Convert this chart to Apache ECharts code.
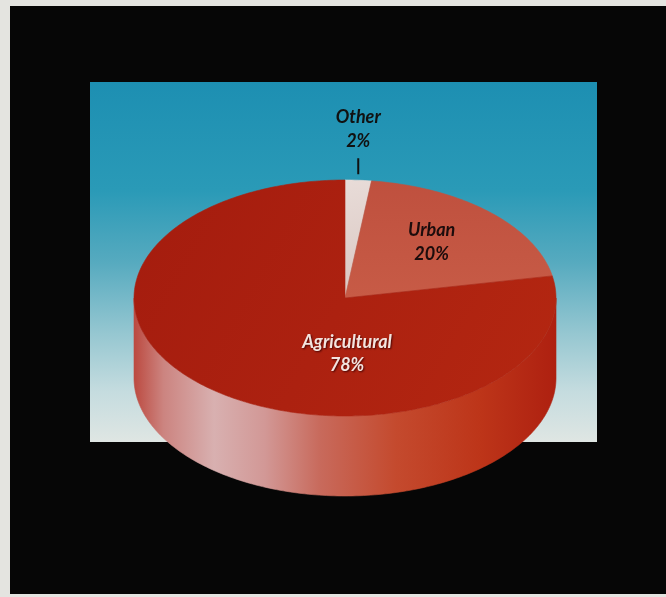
<!DOCTYPE html>
<html>
<head>
<meta charset="utf-8">
<script src="https://cdn.jsdelivr.net/npm/echarts@6.0.0/dist/echarts.min.js"></script>
<style>
  html, body { margin: 0; padding: 0; background: #e4e4e0; }
  #chart { width: 666px; height: 597px; }
</style>
</head>
<body>
<div id="chart"></div>
<script>
// Water use by sector, listed clockwise from 12 o'clock
const categories = ['Other', 'Urban', 'Agricultural'];
const shares = [2, 20, 78];

// Tilted-disc geometry (pixels)
const CX = 345, CY = 298, RX = 211, RY = 118, DEPTH = 80;
const TAU = Math.PI * 2;
const DEG = Math.PI / 180;

const total = shares.reduce((a, b) => a + b, 0);
const starts = [];
(function () {
  let acc = 0;
  shares.forEach(v => { starts.push(acc / total * TAU); acc += v; });
})();

// angle measured clockwise from the top of the disc
function pt(theta, k, dy) {
  return [CX + RX * k * Math.sin(theta), CY - RY * k * Math.cos(theta) + (dy || 0)];
}
function arc(a, b, k, dy) {
  const n = Math.max(2, Math.ceil(Math.abs(b - a) / DEG));
  const pts = [];
  for (let i = 0; i <= n; i++) pts.push(pt(a + (b - a) * i / n, k, dy));
  return pts;
}

const topFill = [
  { type: 'linear', x: 0, y: 0, x2: 1, y2: 1, colorStops: [
    { offset: 0, color: '#e8dcd8' }, { offset: 1, color: '#dac6c1' }] },
  { type: 'linear', x: 0, y: 0, x2: 0, y2: 1, colorStops: [
    { offset: 0, color: '#bf503e' }, { offset: 1, color: '#c75b46' }] },
  { type: 'linear', x: CX - RX, y: CY - RY, x2: CX + RX, y2: CY + RY, global: true, colorStops: [
    { offset: 0, color: '#a41c0e' }, { offset: 0.5, color: '#ac2110' }, { offset: 1, color: '#b42711' }] }
];

const wallFill = { type: 'linear', x: CX - RX, y: 0, x2: CX + RX, y2: 0, global: true, colorStops: [
  { offset: 0, color: '#bc4a40' },
  { offset: 0.07, color: '#cc8480' },
  { offset: 0.19, color: '#d8b0b0' },
  { offset: 0.31, color: '#d29896' },
  { offset: 0.44, color: '#c86a5c' },
  { offset: 0.62, color: '#c44a2e' },
  { offset: 0.82, color: '#bd3519' },
  { offset: 1, color: '#ae2010' }
] };

const labelFont = { fontFamily: 'Lato', fontStyle: 'italic', fontWeight: 'bold', fontSize: 18, lineHeight: 24 };

function renderSlice(params, api) {
  const i = params.dataIndex;
  const v = api.value(1);
  const a0 = starts[i];
  const a1 = a0 + v / total * TAU;
  const mid = (a0 + a1) / 2;
  const children = [];

  // front wall (only the half facing the viewer is visible)
  const f0 = Math.max(a0, Math.PI / 2), f1 = Math.min(a1, Math.PI * 1.5);
  if (f1 > f0) {
    const pts = arc(f0, f1, 1, 0).concat(arc(f1, f0, 1, DEPTH));
    children.push({ type: 'polygon', shape: { points: pts },
      style: { fill: wallFill, stroke: wallFill, lineWidth: 0.6 } });
  }

  // top face
  const face = [[CX, CY]].concat(arc(a0, a1, 1, 0));
  children.push({ type: 'polygon', shape: { points: face },
    style: { fill: topFill[i], stroke: topFill[i], lineWidth: 0.6 } });

  const text = categories[i] + '\n' + v + '%';
  if (i === 0) {
    // small slice: label above the rim with a short leader
    const p = pt(mid, 1, 0);
    children.push({ type: 'line', shape: { x1: p[0], y1: p[1] - 6, x2: p[0], y2: p[1] - 22 },
      style: { stroke: '#111', lineWidth: 2 } });
    children.push({ type: 'text', style: Object.assign({
      text: text, x: p[0], y: p[1] - 51, align: 'center', verticalAlign: 'middle', fill: '#111'
    }, labelFont) });
  } else if (i === 1) {
    const p = pt(mid, 0.6, -4);
    children.push({ type: 'text', style: Object.assign({
      text: text, x: p[0], y: p[1], align: 'center', verticalAlign: 'middle', fill: '#1c0c0c'
    }, labelFont) });
  } else {
    children.push({ type: 'text', style: Object.assign({
      text: text, x: CX + 2, y: CY + 0.47 * RY, align: 'center', verticalAlign: 'middle',
      fill: '#f3e4df', textShadowColor: 'rgba(60,0,0,0.9)', textShadowBlur: 2,
      textShadowOffsetX: 1, textShadowOffsetY: 1
    }, labelFont, { lineHeight: 23 }) });
  }
  return { type: 'group', children: children };
}

const chart = echarts.init(document.getElementById('chart'), null, { renderer: 'canvas' });
chart.setOption({
  animation: false,
  backgroundColor: '#e4e4e0',
  graphic: [
    { type: 'rect', z: 0, shape: { x: 10, y: 6, width: 656, height: 588 }, style: { fill: '#060606' } },
    { type: 'rect', z: 1, shape: { x: 90, y: 82, width: 507, height: 360 },
      style: { fill: { type: 'linear', x: 0, y: 0, x2: 0, y2: 1, colorStops: [
        { offset: 0, color: '#1d8fb2' },
        { offset: 0.3, color: '#2a9ab7' },
        { offset: 0.5, color: '#56aabf' },
        { offset: 0.7, color: '#96c7d1' },
        { offset: 0.86, color: '#c5dcdf' },
        { offset: 1, color: '#dfe6e3' }
      ] } } }
  ],
  series: [{
    type: 'custom',
    coordinateSystem: 'none',
    z: 10,
    renderItem: renderSlice,
    data: shares.map((v, i) => [i, v])
  }]
});
</script>
</body>
</html>
